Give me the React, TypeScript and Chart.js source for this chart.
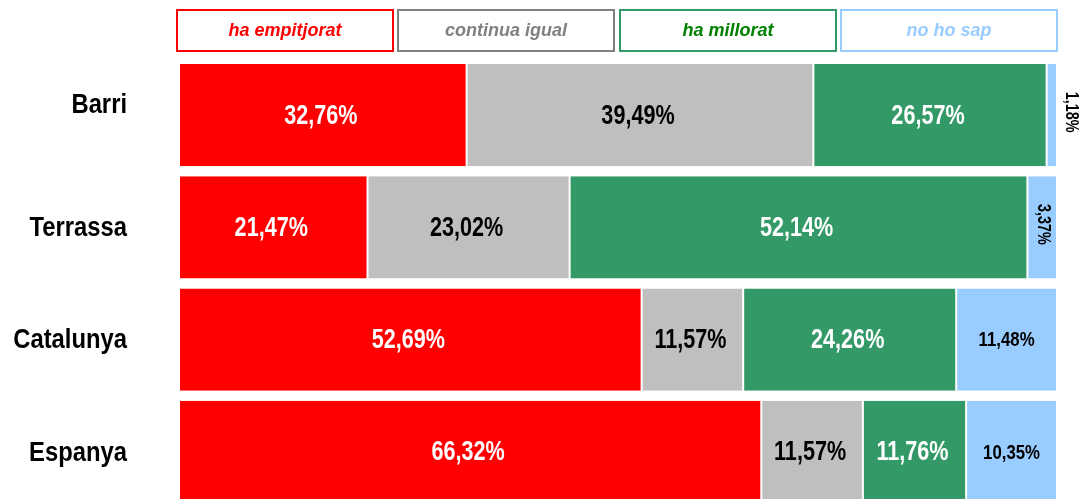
import React, { useEffect, useRef } from "react";
import { Chart, registerables } from "chart.js";

Chart.register(...registerables);

const categories = ["Barri", "Terrassa", "Catalunya", "Espanya"];
const seriesNames = ["ha empitjorat", "continua igual", "ha millorat", "no ho sap"];
const empitjorat = [32.76, 21.47, 52.69, 66.32];
const continuaIgual = [39.49, 23.02, 11.57, 11.57];
const millorat = [26.57, 52.14, 24.26, 11.76];
const noHoSap = [1.18, 3.37, 11.48, 10.35];

const fillColors = ["#FF0000", "#BFBFBF", "#339966", "#99CCFF"];
const legendBorder = ["#FF0000", "#808080", "#339966", "#99CCFF"];
const legendText = ["#FF0000", "#808080", "#008000", "#99CCFF"];
const labelColors = ["#FFFFFF", "#000000", "#FFFFFF", "#000000"];

const SANS = '"Liberation Sans", Arial, sans-serif';
const NARROW_SCALE = 0.8;
// small vertical nudge of the category label, as in the source picture
const categoryLabelNudge: Record<string, number> = { Barri: -11 };

const fmt = (v: number) => v.toFixed(2).replace(".", ",") + "%";

const legendPlugin = {
  id: "boxLegend",
  afterDraw(chart: any) {
    const { ctx, chartArea } = chart;
    const left = chartArea.left - 2;
    const w = 216;
    const step = (chartArea.right - w - left) / 3;
    const top = 10;
    const h = 41;
    ctx.save();
    seriesNames.forEach((name, i) => {
      const x = Math.round(left + i * step);
      ctx.fillStyle = "#FFFFFF";
      ctx.fillRect(x, top, w, h);
      ctx.strokeStyle = legendBorder[i];
      ctx.lineWidth = 2;
      ctx.strokeRect(x, top, w, h);
      ctx.fillStyle = legendText[i];
      ctx.font = `italic bold 18px ${SANS}`;
      ctx.textAlign = "center";
      ctx.textBaseline = "middle";
      ctx.fillText(name, x + w / 2, top + h / 2 + 1);
    });
    ctx.restore();
  },
};

const categoryLabelPlugin = {
  id: "categoryLabels",
  afterDraw(chart: any) {
    const { ctx } = chart;
    const yScale = chart.scales.y;
    ctx.save();
    ctx.fillStyle = "#000000";
    ctx.font = `bold 28px ${SANS}`;
    ctx.textAlign = "right";
    ctx.textBaseline = "middle";
    (chart.data.labels as string[]).forEach((lab, j) => {
      const y = yScale.getPixelForValue(j) + (categoryLabelNudge[lab] || 0);
      ctx.save();
      ctx.translate(yScale.right - 52, y + 1);
      ctx.scale(0.85, 1);
      ctx.fillText(lab, 0, 0);
      ctx.restore();
    });
    ctx.restore();
  },
};

const labelPlugin = {
  id: "segLabels",
  afterDatasetsDraw(chart: any) {
    const { ctx } = chart;
    ctx.save();
    ctx.textAlign = "center";
    ctx.textBaseline = "middle";
    chart.data.datasets.forEach((ds: any, i: number) => {
      const meta = chart.getDatasetMeta(i);
      meta.data.forEach((bar: any, j: number) => {
        const { x, base, y } = bar.getProps(["x", "base", "y"], true);
        const v = ds.data[j];
        const text = fmt(v);
        const w = Math.abs(x - base);
        ctx.fillStyle = labelColors[i];
        ctx.save();
        if (i === 3 && w < 40) {
          const outside = w < 15;
          ctx.font = `bold 18px ${SANS}`;
          ctx.fillStyle = "#000000";
          const cx = outside ? x + 14 : (x + base) / 2 + 1;
          ctx.translate(cx, y - 3);
          ctx.rotate(Math.PI / 2);
          ctx.scale(NARROW_SCALE, 1);
          ctx.fillText(text, 0, 0);
        } else if (i === 3) {
          ctx.font = `bold 21px ${SANS}`;
          ctx.translate((x + base) / 2, y + 1);
          ctx.scale(NARROW_SCALE, 1);
          ctx.fillText(text, 0, 0);
        } else {
          ctx.font = `bold 27px ${SANS}`;
          ctx.translate((x + base) / 2 - 2, y + 1);
          ctx.scale(NARROW_SCALE, 1);
          ctx.fillText(text, 0, 0);
        }
        ctx.restore();
      });
    });
    ctx.restore();
  },
};

export default function App() {
  const ref = useRef<HTMLCanvasElement | null>(null);

  useEffect(() => {
    if (!ref.current) return;
    const values = [empitjorat, continuaIgual, millorat, noHoSap];
    const chart = new Chart(ref.current, {
      type: "bar",
      data: {
        labels: categories,
        datasets: seriesNames.map((name, i) => ({
          label: name,
          data: values[i],
          backgroundColor: fillColors[i],
          borderColor: "rgba(255,255,255,0.9)",
          borderWidth: { left: 1, right: 1, top: 0, bottom: 0 },
          borderSkipped: false,
          categoryPercentage: 1,
          barPercentage: 0.91,
        })),
      },
      options: {
        indexAxis: "y",
        responsive: false,
        animation: false,
        layout: { padding: { top: 59, bottom: 12, right: 32, left: 0 } },
        plugins: {
          legend: { display: false },
          tooltip: { enabled: false },
        },
        scales: {
          x: {
            stacked: true,
            min: 0,
            max: 100,
            display: false,
          },
          y: {
            stacked: true,
            grid: { display: false, drawTicks: false },
            border: { display: false },
            ticks: { display: false },
            afterFit(scale: any) {
              scale.width = 179;
              scale.paddingTop = 0;
              scale.paddingBottom = 0;
            },
          },
        },
      },
      plugins: [legendPlugin, labelPlugin, categoryLabelPlugin],
    } as any);
    return () => chart.destroy();
  }, []);

  return (
    <div
      style={{
        position: "absolute",
        left: 0,
        top: 0,
        width: 1089,
        height: 499,
        overflow: "hidden",
        background: "#FFFFFF",
      }}
    >
      <canvas ref={ref} width={1089} height={520} style={{ display: "block" }} />
    </div>
  );
}
